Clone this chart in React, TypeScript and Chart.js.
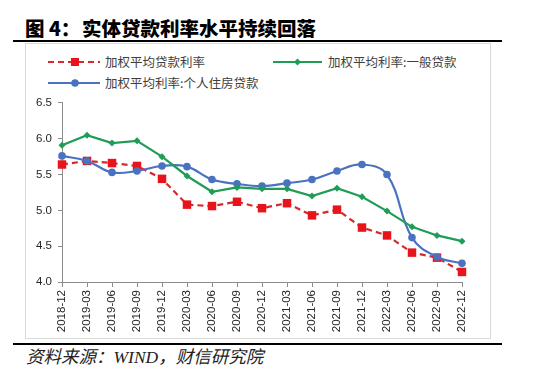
import React, { useEffect, useRef } from "react";
import { Chart, registerables } from "chart.js";

Chart.register(...registerables);

const categories = [
  "2018-12", "2019-03", "2019-06", "2019-09", "2019-12", "2020-03", "2020-06", "2020-09",
  "2020-12", "2021-03", "2021-06", "2021-09", "2021-12", "2022-03", "2022-06", "2022-09", "2022-12",
];
const avgLoanRate = [5.64, 5.69, 5.66, 5.62, 5.44, 5.08, 5.06, 5.12, 5.03, 5.10, 4.93, 5.01, 4.76, 4.65, 4.41, 4.34, 4.14];
const generalLoanRate = [5.91, 6.05, 5.94, 5.97, 5.75, 5.48, 5.26, 5.32, 5.30, 5.30, 5.20, 5.31, 5.19, 4.99, 4.77, 4.65, 4.57];
const mortgageRate = [5.76, 5.69, 5.53, 5.55, 5.62, 5.61, 5.43, 5.37, 5.34, 5.38, 5.43, 5.55, 5.64, 5.50, 4.62, 4.35, 4.26];
const yMin = 4.0;
const yMax = 6.5;
const yStep = 0.5;

const seriesNames = ["加权平均贷款利率", "加权平均利率:一般贷款", "加权平均利率:个人住房贷款"];
const RED_LINE = "#d42a2e";
const RED_MARK = "#e8141c";
const GREEN = "#1f9d57";
const BLUE = "#4a72c0";

const CANVAS_TOP = 90;
const CANVAS_H = 252;

export default function App() {
  const ref = useRef<HTMLCanvasElement>(null);

  useEffect(() => {
    const chart = new Chart(ref.current!, {
      type: "line",
      data: {
        labels: categories,
        datasets: [
          {
            label: seriesNames[0],
            data: avgLoanRate,
            borderColor: RED_LINE,
            borderWidth: 2.2,
            borderDash: [6, 4],
            pointStyle: "rect",
            pointRadius: 6,
            pointBackgroundColor: RED_MARK,
            pointBorderColor: RED_MARK,
            pointBorderWidth: 0,
            tension: 0,
            order: 3,
          },
          {
            label: seriesNames[1],
            data: generalLoanRate,
            borderColor: GREEN,
            borderWidth: 2.2,
            pointStyle: "rectRot",
            pointRadius: 3.5,
            pointBackgroundColor: GREEN,
            pointBorderColor: GREEN,
            pointBorderWidth: 0,
            tension: 0,
            order: 1,
          },
          {
            label: seriesNames[2],
            data: mortgageRate,
            borderColor: BLUE,
            borderWidth: 2.2,
            pointStyle: "circle",
            pointRadius: 3.8,
            pointBackgroundColor: BLUE,
            pointBorderColor: BLUE,
            pointBorderWidth: 0,
            tension: 0.4,
            order: 2,
          },
        ],
      },
      options: {
        animation: false,
        responsive: false,
        devicePixelRatio: 1,
        layout: { padding: { left: 0, right: 71, top: 12, bottom: 0 } },
        plugins: { legend: { display: false }, tooltip: { enabled: false } },
        scales: {
          x: {
            type: "category",
            offset: false,
            grid: { drawOnChartArea: false, drawTicks: true, tickLength: 5, color: "#8c8c8c" },
            border: { color: "#8c8c8c", width: 1 },
            ticks: {
              autoSkip: false,
              maxRotation: 90,
              minRotation: 90,
              padding: 3,
              color: "#262626",
              font: { family: "'Liberation Sans', Arial, sans-serif", size: 11.5 },
            },
            afterFit: (scale: any) => {
              scale.height = 60;
            },
          },
          y: {
            min: yMin,
            max: yMax,
            grid: { drawOnChartArea: false, drawTicks: true, tickLength: 4, color: "#8c8c8c" },
            border: { color: "#8c8c8c", width: 1 },
            ticks: {
              stepSize: yStep,
              padding: 6,
              color: "#262626",
              font: { family: "'Liberation Sans', Arial, sans-serif", size: 11.5 },
              callback: (v: any) => Number(v).toFixed(1),
            },
            afterFit: (scale: any) => {
              scale.width = 62;
            },
          },
        },
      },
    });
    return () => chart.destroy();
  }, []);

  const legendText: React.CSSProperties = {
    position: "absolute",
    fontFamily: "'Noto Sans CJK SC', sans-serif",
    fontSize: 12.5,
    color: "#404040",
    lineHeight: "16px",
    whiteSpace: "nowrap",
  };

  const titleStyle: React.CSSProperties = {
    position: "absolute",
    top: 14,
    fontFamily: "'Noto Sans CJK SC', sans-serif",
    fontWeight: 900,
    fontSize: 19.5,
    lineHeight: "28px",
    color: "#000",
    whiteSpace: "nowrap",
  };

  return (
    <div
      style={{
        position: "absolute",
        left: 0,
        top: 0,
        width: 533,
        height: 379,
        background: "#fff",
        overflow: "hidden",
      }}
    >
      <div style={{ ...titleStyle, left: 25 }}>图 4：</div>
      <div style={{ ...titleStyle, left: 82 }}>实体贷款利率水平持续回落</div>
      <div style={{ position: "absolute", left: 13, top: 40, width: 489, height: 2, background: "#000" }} />
      <div
        style={{
          position: "absolute",
          left: 25,
          top: 43,
          width: 466,
          height: 296,
          border: "1px solid #d9d9d9",
          boxSizing: "border-box",
        }}
      />
      <svg style={{ position: "absolute", left: 0, top: 50 }} width={533} height={45}>
        <line x1={48} y1={12} x2={100} y2={12} stroke={RED_LINE} strokeWidth={2.2} strokeDasharray="6 4" />
        <rect x={71} y={8} width={8} height={8} fill={RED_MARK} />
        <line x1={273} y1={12} x2={322} y2={12} stroke={GREEN} strokeWidth={2.2} />
        <polygon points="297.5,8.5 301,12 297.5,15.5 294,12" fill={GREEN} />
        <line x1={48} y1={33} x2={100} y2={33} stroke={BLUE} strokeWidth={2.2} />
        <circle cx={75} cy={33} r={3.8} fill={BLUE} />
      </svg>
      <div style={{ ...legendText, left: 105, top: 54 }}>{seriesNames[0]}</div>
      <div style={{ ...legendText, left: 328, top: 54 }}>{seriesNames[1]}</div>
      <div style={{ ...legendText, left: 105, top: 75 }}>{seriesNames[2]}</div>
      <canvas
        ref={ref}
        width={533}
        height={CANVAS_H}
        style={{ position: "absolute", left: 0, top: CANVAS_TOP, width: 533, height: CANVAS_H }}
      />
      <div style={{ position: "absolute", left: 13, top: 343, width: 489, height: 2, background: "#000" }} />
      <div
        style={{
          position: "absolute",
          left: 26,
          top: 345,
          fontFamily: "'Liberation Serif', 'Noto Sans CJK SC', serif",
          fontStyle: "italic",
          fontSize: 17.5,
          lineHeight: "24px",
          color: "#222",
          whiteSpace: "nowrap",
        }}
      >
        资料来源：WIND，财信研究院
      </div>
    </div>
  );
}
